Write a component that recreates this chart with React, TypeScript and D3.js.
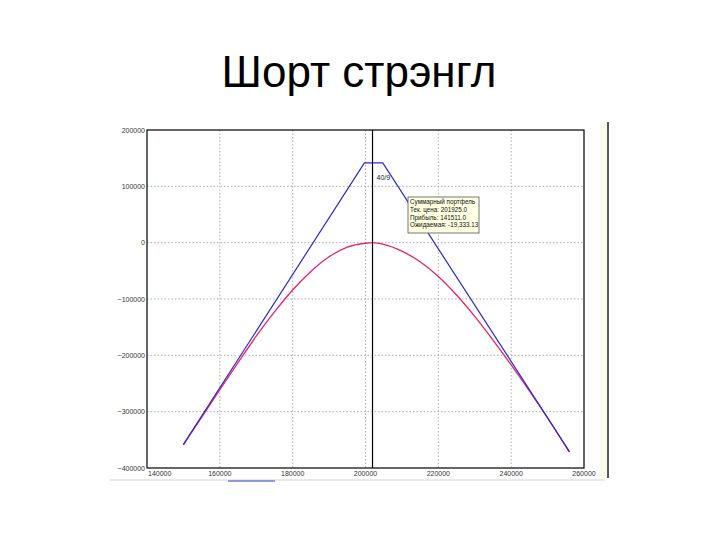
import React from "react";
import * as d3 from "d3";

const xTicks = [140000, 160000, 180000, 200000, 220000, 240000, 260000];
const yTicks = [200000, 100000, 0, -100000, -200000, -300000, -400000];

// Payoff at expiration (blue)
const expiryPrice = [150000, 199700, 204750, 256000];
const expiryPnl = [-358000, 141500, 141500, -371000];

// Current theoretical value (red)
const currentPrice = [
  150000, 155000, 160000, 165000, 170000, 175000, 180000, 185000, 190000, 195000,
  200000, 202000, 205000, 210000, 215000, 220000, 225000, 230000, 235000, 240000,
  245000, 250000, 256000,
];
const currentPnl = [
  -359000, -310000, -261000, -213000, -166000, -123000, -84000, -51000, -25000, -8000,
  -1000, 0, -3000, -15000, -34000, -60000, -93000, -131000, -173000, -217000,
  -263000, -311000, -372000,
];

const cursorPrice = 201925;
const cursorLabel = "40/9";
const tooltipLines = [
  "Суммарный портфель",
  "Тек. цена: 201925.0",
  "Прибыль: 141511.0",
  "Ожидаемая: -19,333.13",
];
const title = "Шорт стрэнгл";

export default function App() {
  const x = d3.scaleLinear().domain([140000, 260000]).range([147, 584]);
  const y = d3.scaleLinear().domain([-400000, 200000]).range([468, 130]);
  const fmt = d3.format("d");

  const blueData = expiryPrice.map((p, i) => [p, expiryPnl[i]] as [number, number]);
  const redData = currentPrice.map((p, i) => [p, currentPnl[i]] as [number, number]);

  const straight = d3
    .line<[number, number]>()
    .x((d) => x(d[0]))
    .y((d) => y(d[1]));
  const smooth = d3
    .line<[number, number]>()
    .x((d) => x(d[0]))
    .y((d) => y(d[1]))
    .curve(d3.curveMonotoneX);

  const [x0, x1] = x.range();
  const [y0, y1] = y.range();
  const cx = x(cursorPrice);

  return (
    <svg
      width={720}
      height={540}
      style={{ position: "absolute", left: 0, top: 0, background: "#fff" }}
      fontFamily="Liberation Sans, Arial, sans-serif"
    >
      <rect x={0} y={0} width={720} height={540} fill="#fff" />
      <text x={359} y={87} textAnchor="middle" fontSize={44} fill="#000">
        {title}
      </text>

      {/* right panel edge */}
      <rect x={600} y={122} width={7} height={356} fill="#fbfbe9" />
      <line x1={608} y1={122} x2={608} y2={478} stroke="#222" strokeWidth={1.5} />
      {/* bottom scrollbar */}
      <line x1={110} y1={480} x2={605} y2={480} stroke="#e2e2e2" strokeWidth={1.5} />
      <line x1={228} y1={481} x2={275} y2={481} stroke="#6f7fcf" strokeWidth={1.5} />

      {/* grid */}
      {xTicks.slice(1, -1).map((t) => (
        <line
          key={"gx" + t}
          x1={x(t)}
          x2={x(t)}
          y1={y1}
          y2={y0}
          stroke="#9a9a9a"
          strokeWidth={0.8}
          strokeDasharray="1.5,2"
        />
      ))}
      {yTicks.slice(1, -1).map((t) => (
        <line
          key={"gy" + t}
          x1={x0}
          x2={x1}
          y1={y(t)}
          y2={y(t)}
          stroke="#9a9a9a"
          strokeWidth={0.8}
          strokeDasharray="1.5,2"
        />
      ))}

      {/* frame */}
      <rect x={x0} y={y1} width={x1 - x0} height={y0 - y1} fill="none" stroke="#000" strokeWidth={1.2} />

      {/* tick labels */}
      {yTicks.map((t) => (
        <text
          key={"ly" + t}
          x={x0 - 2}
          y={y(t) + 2.5}
          textAnchor="end"
          fontSize={7}
          fill="#333"
        >
          {fmt(t)}
        </text>
      ))}
      {xTicks.map((t, i) => (
        <text
          key={"lx" + t}
          x={i === 0 ? x(t) + 1 : x(t)}
          y={y0 + 8}
          textAnchor={i === 0 ? "start" : "middle"}
          fontSize={7}
          fill="#333"
        >
          {fmt(t)}
        </text>
      ))}

      {/* curves */}
      <path d={smooth(redData) || ""} fill="none" stroke="#e8246a" strokeWidth={1.3} />
      <path d={straight(blueData) || ""} fill="none" stroke="#2a2ad4" strokeWidth={1.2} />

      {/* cursor */}
      <line x1={cx} x2={cx} y1={y1} y2={y0} stroke="#000" strokeWidth={1.2} />
      <text x={cx + 4} y={180} fontSize={7} fill="#222">
        {cursorLabel}
      </text>

      {/* tooltip */}
      <rect x={408} y={197} width={71} height={36} fill="#ffffe1" stroke="#555" strokeWidth={0.8} />
      {tooltipLines.map((s, i) => (
        <text key={"tt" + i} x={410} y={204 + i * 7.8} fontSize={6.3} fill="#111">
          {s}
        </text>
      ))}
    </svg>
  );
}
